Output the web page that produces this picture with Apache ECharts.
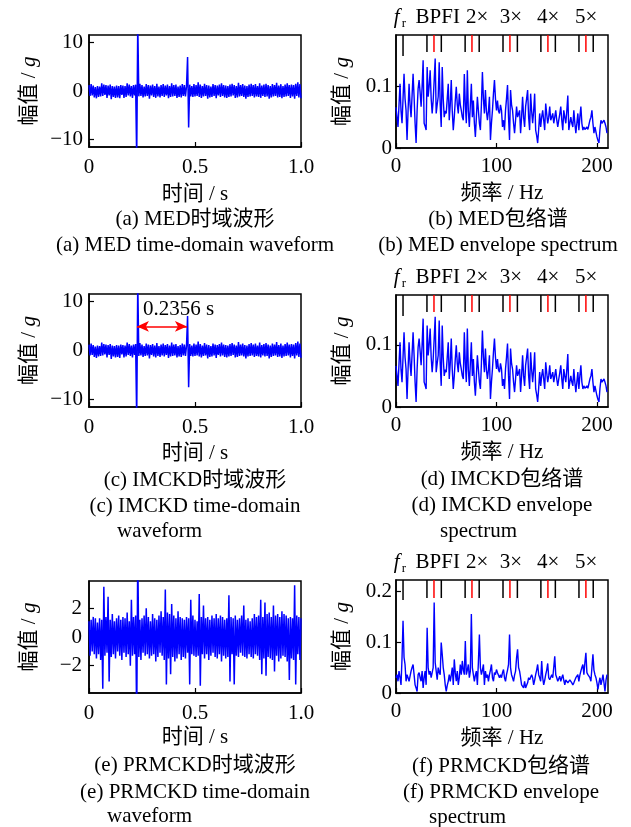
<!DOCTYPE html>
<html>
<head>
<meta charset="utf-8">
<script src="https://cdn.jsdelivr.net/npm/echarts@6/dist/echarts.min.js"></script>
<style>
  html, body { margin: 0; padding: 0; background: #fff; }
  #chart { width: 631px; height: 827px; }
</style>
</head>
<body>
<div id="chart"></div>
<script>
// waveforms: one sample every 5 ms (0..1 s); spectra: 1 Hz bins (0..210 Hz)
var tStep = 0.005;
var fStep = 1;

// (a) MED waveform, peaks/troughs
var medWave = [
  1.2, -1.0, 1.4, -0.9, 1.1, -1.3, 0.8, -1.5, 1.0, -1.2,
  0.9, -1.1, 1.6, -1.0, 1.3, -0.8, 1.2, -1.4, 1.1, -0.9,
  1.3, -1.7, 1.0, -1.2, 0.9, -1.4, 1.1, -1.3, 1.0, -1.5,
  1.2, -0.8, 1.1, -1.4, 1.0, -1.2, 1.6, -0.9, 1.3, -1.1,
  1.0, -1.4, 1.2, -0.9, 1.3, -14, 14, -1.1, 1.5, -1.0,
  1.2, -1.3, 0.9, -1.1, 1.4, -1.0, 1.2, -1.6, 1.1, -0.9,
  1.3, -1.2, 1.0, -1.4, 1.5, -1.1, 0.9, -1.3, 1.2, -1.0,
  1.4, -1.2, 1.1, -0.9, 1.3, -1.5, 1.0, -1.2, 1.6, -1.1,
  1.2, -1.0, 1.3, -1.4, 0.9, -1.2, 1.1, -1.3, 1.4, -1.0,
  1.2, -1.1, 1.0, 7.0, -7.5, 1.3, -1.1, 1.0, -1.2, 1.4,
  -1.1, 1.2, -1.0, 1.8, -1.2, 1.3, -1.4, 1.0, -1.1, 1.5,
  -1.0, 1.2, -1.6, 1.1, -1.3, 0.9, -1.2, 1.4, -1.0, 1.2,
  -1.5, 1.1, -0.9, 1.3, -1.2, 1.6, -1.0, 1.2, -1.3, 1.1,
  -1.4, 1.0, -1.2, 1.3, -1.1, 1.5, -0.9, 1.2, -1.4, 1.0,
  -1.3, 1.7, -1.1, 1.2, -1.0, 1.4, -1.2, 1.1, -1.6, 1.0,
  -1.2, 1.3, -1.1, 1.5, -1.0, 1.2, -1.3, 1.4, -1.1, 1.0,
  -1.2, 1.6, -1.4, 1.1, -1.0, 1.3, -1.2, 1.5, -1.1, 1.2,
  -1.6, 1.0, -1.3, 1.4, -1.1, 1.2, -1.0, 1.7, -1.3, 1.1,
  -1.2, 1.4, -1.5, 1.0, -1.2, 1.3, -1.1, 1.6, -1.0, 1.2,
  -1.4, 1.3, -1.1, 1.2, -1.6, 1.5, -1.0, 1.8, -1.3, 1.4, -1.5
];
// (c) IMCKD waveform looks the same as (a) in the figure
var imckdWave = medWave;

// (e) PRMCKD waveform
var prmckdWave = [
  1.1, -1.3, 1.2, -1.0, 1.4, -1.2, 1.3, -1.5, 1.0, -1.2,
  1.3, -1.6, 1.2, -3.6, 3.5, -1.3, 1.4, -1.1, 2.8, -3.1,
  1.2, -1.4, 1.6, -1.2, 1.1, -1.5, 1.3, -1.0, 1.5, -1.3,
  1.2, -1.6, 1.4, -1.1, 1.3, -1.4, 1.7, -1.2, 1.1, -2.0,
  2.6, -1.3, 1.4, -1.2, 1.5, -6, 6, -1.4, 1.2, -1.6,
  1.3, -1.1, 1.5, -1.3, 2.0, -1.2, 1.4, -1.5, 1.1, -1.3,
  1.6, -1.2, 1.3, -1.7, 1.2, -1.4, 1.5, -1.1, 1.8, -1.3,
  1.4, -1.6, 3.3, -3.3, 1.7, -1.5, 1.6, -2.6, 2.3, -1.4,
  1.5, -1.7, 1.3, -1.5, 1.8, -1.2, 1.4, -1.6, 1.3, -1.4,
  1.2, -1.5, 1.4, -1.1, 1.3, -3.3, 2.6, -1.2, 1.5, -1.3,
  1.2, -1.4, 1.1, -1.3, 3.0, -3.4, 1.4, -1.2, 2.2, -1.5,
  1.3, -1.2, 1.4, -1.6, 1.2, -1.3, 1.5, -1.1, 1.3, -1.4,
  1.6, -1.5, 1.3, -1.2, 1.5, -1.7, 1.4, -1.3, 1.2, -1.5,
  1.3, -1.4, 2.9, -3.1, 1.4, -1.2, 1.3, -3.3, 1.5, -1.3,
  1.2, -1.4, 1.3, -1.1, 1.5, -1.3, 2.2, -1.4, 1.2, -1.5,
  1.3, -1.2, 1.1, -1.4, 1.3, -1.5, 1.6, -1.2, 1.4, -1.3,
  1.5, -1.6, 2.6, -2.6, 1.4, -1.5, 2.4, -2.7, 1.6, -1.4,
  1.7, -1.5, 1.4, -1.6, 2.2, -2.4, 1.5, -1.3, 1.6, -1.7,
  1.4, -1.5, 1.8, -1.3, 1.6, -1.4, 1.5, -1.7, 1.3, -3.0,
  1.4, -1.5, 1.3, -1.6, 3.6, -3.3, 1.5, -1.2, 1.4, -1.6, 1.3
];

// (b) MED envelope spectrum, 0..210 Hz
var medSpec = [
  0.066, 0.05, 0.034, 0.07, 0.104, 0.06, 0.04, 0.08, 0.12, 0.08,
  0.061, 0.013, 0.06, 0.104, 0.07, 0.05, 0.085, 0.12, 0.083, 0.04,
  0.008, 0.06, 0.096, 0.11, 0.09, 0.067, 0.1, 0.142, 0.04, 0.035,
  0.029, 0.131, 0.083, 0.1, 0.126, 0.08, 0.056, 0.077, 0.11, 0.145,
  0.056, 0.07, 0.083, 0.139, 0.07, 0.034, 0.131, 0.08, 0.05, 0.06,
  0.056, 0.08, 0.104, 0.045, 0.07, 0.11, 0.06, 0.029, 0.05, 0.077,
  0.099, 0.07, 0.056, 0.088, 0.07, 0.061, 0.05, 0.045, 0.12, 0.07,
  0.04, 0.126, 0.06, 0.034, 0.07, 0.104, 0.05, 0.077, 0.04, 0.018,
  0.05, 0.083, 0.061, 0.04, 0.029, 0.07, 0.123, 0.08, 0.056, 0.094,
  0.06, 0.045, 0.06, 0.083, 0.013, 0.04, 0.061, 0.088, 0.11, 0.08,
  0.061, 0.077, 0.06, 0.056, 0.07, 0.061, 0.034, 0.045, 0.029, 0.061,
  0.08, 0.102, 0.05, 0.013, 0.094, 0.07, 0.061, 0.04, 0.024, 0.045,
  0.067, 0.05, 0.055, 0.061, 0.024, 0.05, 0.083, 0.05, 0.034, 0.067,
  0.08, 0.094, 0.05, 0.029, 0.088, 0.06, 0.04, 0.06, 0.088, 0.029,
  0.02, 0.008, 0.03, 0.056, 0.034, 0.05, 0.061, 0.045, 0.029, 0.072,
  0.055, 0.04, 0.05, 0.067, 0.045, 0.05, 0.056, 0.04, 0.05, 0.061,
  0.045, 0.034, 0.045, 0.055, 0.067, 0.045, 0.029, 0.061, 0.05, 0.04,
  0.06, 0.085, 0.029, 0.04, 0.05, 0.04, 0.034, 0.061, 0.04, 0.024,
  0.04, 0.056, 0.029, 0.05, 0.067, 0.04, 0.029, 0.034, 0.03, 0.029,
  0.034, 0.03, 0.029, 0.045, 0.05, 0.061, 0.04, 0.024, 0.034, 0.034,
  0.018, 0.012, 0.008, 0.03, 0.045, 0.04, 0.042, 0.045, 0.04, 0.034, 0.024
];
// (d) IMCKD spectrum reads the same as (b)
var imckdSpec = medSpec;

// (f) PRMCKD envelope spectrum
var prmckdSpec = [
  0.03, 0.036, 0.023, 0.043, 0.03, 0.016, 0.069, 0.142, 0.07, 0.056,
  0.023, 0.036, 0.03, 0.023, 0.033, 0.043, 0.05, 0.056, 0.036, 0.016,
  0.01, 0.003, 0.036, 0.04, 0.03, 0.023, 0.043, 0.01, 0.03, 0.043,
  0.016, 0.128, 0.05, 0.036, 0.043, 0.03, 0.04, 0.05, 0.178, 0.06,
  0.043, 0.026, 0.05, 0.04, 0.036, 0.099, 0.076, 0.05, 0.036, 0.016,
  0.003, 0.015, 0.023, 0.036, 0.023, 0.035, 0.05, 0.016, 0.066, 0.04,
  0.023, 0.043, 0.016, 0.03, 0.056, 0.036, 0.063, 0.045, 0.036, 0.102,
  0.036, 0.045, 0.056, 0.03, 0.043, 0.155, 0.05, 0.036, 0.023, 0.035,
  0.043, 0.016, 0.06, 0.115, 0.05, 0.036, 0.045, 0.056, 0.016, 0.043,
  0.03, 0.036, 0.023, 0.036, 0.045, 0.056, 0.03, 0.023, 0.04, 0.036,
  0.046, 0.04, 0.043, 0.03, 0.036, 0.03, 0.04, 0.046, 0.03, 0.023,
  0.036, 0.045, 0.056, 0.115, 0.05, 0.036, 0.03, 0.023, 0.035, 0.043,
  0.069, 0.086, 0.05, 0.043, 0.03, 0.016, 0.013, 0.01, 0.023, 0.01,
  0.015, 0.02, 0.03, 0.026, 0.023, 0.036, 0.03, 0.016, 0.025, 0.036,
  0.045, 0.056, 0.036, 0.03, 0.023, 0.063, 0.03, 0.016, 0.025, 0.036,
  0.045, 0.058, 0.03, 0.026, 0.023, 0.036, 0.03, 0.05, 0.072, 0.036,
  0.03, 0.023, 0.028, 0.033, 0.023, 0.03, 0.036, 0.025, 0.016, 0.026,
  0.023, 0.02, 0.023, 0.026, 0.023, 0.02, 0.016, 0.02, 0.023, 0.03,
  0.033, 0.036, 0.023, 0.035, 0.043, 0.05, 0.056, 0.036, 0.06, 0.079,
  0.04, 0.036, 0.033, 0.03, 0.023, 0.05, 0.076, 0.045, 0.036, 0.03,
  0.02, 0.007, 0.02, 0.03, 0.016, 0.025, 0.036, 0.02, 0.003, 0.025, 0.036
];

// characteristic frequencies marked above the spectra (Hz)
var frFreq = [7.0];
var bpfiFreqs = [37.8, 75.6, 113.4, 151.2, 189.0];
var sideFreqs = [30.8, 45.1, 68.8, 82.8, 106.5, 120.8, 144.2, 158.6, 182.1, 196.3];
var markLabels = ['fr', 'BPFI', '2×', '3×', '4×', '5×'];
var markLabelFreqs = [-2.3, 41.5, 80.8, 114.4, 151.5, 189.3];

// impact interval in (c)
var impactTimes = [0.226, 0.462];
var arrowLevel = 4.9;

var timeTicks = [0, 0.5, 1];
var freqTicks = [0, 100, 200];

var FONT = "'Liberation Serif', 'Times New Roman', 'Noto Sans CJK SC', serif";
var chart = echarts.init(document.getElementById('chart'));

var toPairs = function(arr, step) {
  return arr.map(function(v, i) { return [i * step, v]; });
};
var minus = function(v) { return String(v).replace('-', '\u2212'); };

var gridBoxes = [
  { left: 89, top: 35, width: 212, height: 112 },
  { left: 396, top: 35, width: 212, height: 113 },
  { left: 89, top: 294, width: 212, height: 113 },
  { left: 396, top: 295, width: 212, height: 112 },
  { left: 89, top: 581, width: 212, height: 112 },
  { left: 396, top: 580, width: 212, height: 113 }
];
var grids = gridBoxes.map(function(b) {
  return Object.assign({ show: true, borderColor: '#000', borderWidth: 1.5,
    backgroundColor: 'transparent', containLabel: false, outerBoundsMode: 'none' }, b);
});

var tickStyle = { show: true, inside: true, length: 5, lineStyle: { color: '#000', width: 1.2 } };

var xAxisOf = function(gi, isTime, gap) {
  var ticks = isTime ? timeTicks : freqTicks;
  return {
    type: 'value', gridIndex: gi, min: 0, max: isTime ? 1 : 211,
    name: isTime ? '时间 / s' : '频率 / Hz', nameLocation: 'middle', nameGap: gap,
    nameTextStyle: { fontSize: 21, color: '#000', fontFamily: FONT },
    axisLine: { show: true, onZero: false, lineStyle: { color: '#000', width: 1.5 } },
    axisTick: Object.assign({ customValues: ticks }, tickStyle),
    axisLabel: { customValues: ticks, fontSize: 21, color: '#000', fontFamily: FONT,
      margin: isTime ? 10 : 8, showMinLabel: true, showMaxLabel: true,
      formatter: function(v) { return isTime && v === 1 ? '1.0' : String(v); } },
    splitLine: { show: false }
  };
};

var yAxisOf = function(gi, min, max, ticks, gap, margin) {
  return {
    type: 'value', gridIndex: gi, min: min, max: max,
    name: '幅值 / {g|g}', nameLocation: 'middle', nameGap: gap,
    nameTextStyle: { fontSize: 21, color: '#000', fontFamily: FONT,
      rich: { g: { fontSize: 21, fontStyle: 'italic', fontFamily: FONT, color: '#000' } } },
    axisLine: { show: true, onZero: false, lineStyle: { color: '#000', width: 1.5 } },
    axisTick: Object.assign({ customValues: ticks }, tickStyle),
    axisLabel: { customValues: ticks, fontSize: 21, color: '#000', fontFamily: FONT, margin: margin,
      showMinLabel: true, showMaxLabel: true, formatter: minus },
    splitLine: { show: false }
  };
};

var lineOf = function(gi, data, step, width) {
  return {
    type: 'line', xAxisIndex: gi, yAxisIndex: gi, data: toPairs(data, step),
    showSymbol: false, symbol: 'none', clip: true, silent: true,
    lineStyle: { color: '#0000ff', width: width }
  };
};

// short vertical ticks hanging from the top frame of each spectrum
var markerSeries = function(gi, lenFr, lenOther) {
  var data = [];
  frFreq.forEach(function(f) { data.push([f, 0, 0]); });
  sideFreqs.forEach(function(f) { data.push([f, 0, 1]); });
  bpfiFreqs.forEach(function(f) { data.push([f, 0, 2]); });
  return {
    type: 'custom', xAxisIndex: gi, yAxisIndex: gi, silent: true, z: 5, data: data,
    renderItem: function(params, api) {
      var kind = api.value(2);
      var x = api.coord([api.value(0), 0])[0];
      var top = params.coordSys.y;
      return {
        type: 'line',
        shape: { x1: x, y1: top, x2: x, y2: top + (kind === 0 ? lenFr : lenOther) },
        style: { stroke: kind === 2 ? '#ff0000' : '#000', lineWidth: 1.5 }
      };
    }
  };
};

var labelSeries = function(gi) {
  return {
    type: 'custom', xAxisIndex: gi, yAxisIndex: gi, silent: true, z: 5,
    data: markLabelFreqs.map(function(f) { return [f, 0]; }),
    renderItem: function(params, api) {
      var x = api.coord([api.value(0), 0])[0];
      var y = params.coordSys.y - 18;
      var txt = markLabels[params.dataIndex];
      if (txt === 'fr') {
        return {
          type: 'group', children: [
            { type: 'text', x: x, y: y, style: { text: 'f', font: 'italic 21px ' + FONT, fill: '#000',
              align: 'left', textAlign: 'left', verticalAlign: 'middle', textVerticalAlign: 'middle' } },
            { type: 'text', x: x + 8, y: y + 7, style: { text: 'r', font: '13px ' + FONT, fill: '#000',
              align: 'left', textAlign: 'left', verticalAlign: 'middle', textVerticalAlign: 'middle' } }
          ]
        };
      }
      return { type: 'text', x: x, y: y, style: { text: txt, font: '21px ' + FONT, fill: '#000',
        align: 'center', textAlign: 'center', verticalAlign: 'middle', textVerticalAlign: 'middle' } };
    }
  };
};

var captions = [
  ['(a) MED时域波形', 195, 219, 'center'],
  ['(a) MED time-domain waveform', 195, 245, 'center'],
  ['(b) MED包络谱', 498, 219, 'center'],
  ['(b) MED envelope spectrum', 498, 245, 'center'],
  ['(c) IMCKD时域波形', 195, 480, 'center'],
  ['(c) IMCKD time-domain', 195, 506, 'center'],
  ['waveform', 117, 531, 'left'],
  ['(d) IMCKD包络谱', 502, 479, 'center'],
  ['(d) IMCKD envelope', 502, 505, 'center'],
  ['spectrum', 440, 531, 'left'],
  ['(e) PRMCKD时域波形', 195, 765, 'center'],
  ['(e) PRMCKD time-domain', 195, 792, 'center'],
  ['waveform', 107, 816, 'left'],
  ['(f) PRMCKD包络谱', 501, 766, 'center'],
  ['(f) PRMCKD envelope', 501, 792, 'center'],
  ['spectrum', 429, 817, 'left'],
  ['0.2356 s', 143, 309, 'left']
];

var imckdSeries = lineOf(2, imckdWave, tStep, 1.5);
imckdSeries.markLine = {
  silent: true, symbol: ['arrow', 'arrow'], symbolSize: [8, 12],
  lineStyle: { color: '#ff0000', width: 1.5, type: 'solid' },
  label: { show: false },
  data: [[{ coord: [impactTimes[0], arrowLevel] }, { coord: [impactTimes[1], arrowLevel] }]]
};

var option = {
  animation: false,
  backgroundColor: '#fff',
  textStyle: { fontFamily: FONT },
  grid: grids,
  xAxis: [
    xAxisOf(0, true, 37), xAxisOf(1, false, 35),
    xAxisOf(2, true, 36), xAxisOf(3, false, 35),
    xAxisOf(4, true, 34), xAxisOf(5, false, 35)
  ],
  yAxis: [
    yAxisOf(0, -11.5, 11.5, [-10, 0, 10], 49, 6),
    yAxisOf(1, 0, 0.183, [0, 0.1], 43, 4),
    yAxisOf(2, -11.5, 11.5, [-10, 0, 10], 49, 6),
    yAxisOf(3, 0, 0.18, [0, 0.1], 43, 4),
    yAxisOf(4, -3.9, 3.9, [-2, 0, 2], 49, 7),
    yAxisOf(5, 0, 0.222, [0, 0.1, 0.2], 43, 4)
  ],
  series: [
    lineOf(0, medWave, tStep, 1.5),
    lineOf(1, medSpec, fStep, 1.4),
    markerSeries(1, 21, 17), labelSeries(1),
    imckdSeries,
    lineOf(3, imckdSpec, fStep, 1.4),
    markerSeries(3, 21, 17), labelSeries(3),
    lineOf(4, prmckdWave, tStep, 1.5),
    lineOf(5, prmckdSpec, fStep, 1.4),
    markerSeries(5, 20, 18), labelSeries(5)
  ],
  graphic: captions.map(function(c) {
    return {
      type: 'text', x: c[1], y: c[2], silent: true,
      style: { text: c[0], font: '21px ' + FONT, fill: '#000',
        align: c[3], textAlign: c[3], verticalAlign: 'middle', textVerticalAlign: 'middle' }
    };
  })
};

chart.setOption(option);
</script>
</body>
</html>
